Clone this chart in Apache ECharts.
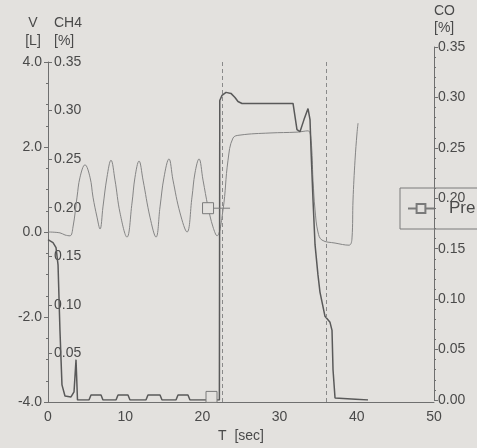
<!DOCTYPE html>
<html>
<head>
<meta charset="utf-8">
<script src="https://cdn.jsdelivr.net/npm/echarts@6/dist/echarts.min.js"></script>
<style>
  html, body { margin: 0; padding: 0; background: #e3e1de; }
  #chart { width: 477px; height: 448px; }
</style>
</head>
<body>
<div id="chart"></div>
<script>
var myChart = echarts.init(document.getElementById('chart'));

// volume trace [L]
var tV = [0, 1.55, 2.2, 2.85, 3.24, 3.76, 4.15, 4.79, 5.44, 5.83, 6.35, 6.74,
    7.12, 7.64, 8.16, 8.68, 9.33, 10.23,
    10.88, 11.27, 11.79, 12.31, 13.21, 13.99,
    14.51, 15.03, 15.67, 16.19, 17.1, 18.01,
    18.65, 19.04, 19.56, 20.08, 20.73, 21.37, 21.89,
    22.67, 23.32, 23.96, 24.87, 28.76, 32.25, 33.68, 34.07, 34.33,
    34.59, 34.97, 35.49, 37.18, 38.99, 39.38, 39.51, 39.77, 40.03, 40.16];
var vol = [0, -0.02, -0.07, -0.09, 0.12, 0.82, 1.29, 1.58, 1.29, 0.82, 0.35, 0.07,
    0.59, 1.29, 1.69, 1.22, 0.45, -0.12,
    0.68, 1.29, 1.67, 1.22, 0.35, -0.12,
    0.59, 1.29, 1.72, 1.22, 0.45, 0,
    0.82, 1.39, 1.72, 1.22, 0.59, 0.12, -0.09,
    0.52, 1.69, 2.21, 2.28, 2.33, 2.35, 2.38, 2.16, 1.22,
    0.52, 0, -0.19, -0.26, -0.31, -0.14, 0.75, 1.69, 2.33, 2.56];

// CO trace [%]
var tCO = [0, 0.65, 1.04, 1.3, 1.55, 1.81, 2.2, 2.98, 3.37, 3.63, 3.82, 4.15, 5.31, 5.57, 6.87,
    7.12, 8.81, 9.07, 10.36, 10.62, 12.69, 12.95, 14.51, 14.77, 16.58, 16.84, 18.13, 18.39,
    22.2, 22.25, 22.54, 23.06, 23.7, 24.22, 24.61, 25.13, 31.74, 32.25, 32.64, 33.16, 33.68,
    33.94, 34.07, 34.33, 34.59, 34.97, 35.23, 35.88, 36.53, 36.79, 36.92, 37.18, 41.45];
var co = [0.159, 0.156, 0.151, 0.134, 0.069, 0.015, 0.004, 0.003, 0.008, 0.04, 0, 0, 0, 0.005, 0.005,
    0, 0, 0.005, 0.005, 0, 0, 0.005, 0.005, 0, 0, 0.005, 0.005, 0,
    0, 0.297, 0.302, 0.305, 0.304, 0.3, 0.296, 0.294, 0.294, 0.268, 0.266, 0.278, 0.289,
    0.278, 0.248, 0.198, 0.154, 0.124, 0.107, 0.083, 0.077, 0.069, 0.03, 0.002, 0];

// "Pre" markers
var tPre = [20.73, 23.58];
var vPre = [0.56, 0.56];
var tPre2 = [21.18];
var vPre2 = [-3.88];

// dashed event lines
var tMarks = [22.6, 36.0];

var bg = '#e3e1de';
var ink = '#4a4a4a';
var axisCol = '#6f6f6f';
var font = 'Liberation Sans, Arial, sans-serif';

function zip(a, b) {
    var out = [];
    for (var i = 0; i < a.length; i++) out.push([a[i], b[i]]);
    return out;
}

var preData = zip(tPre, vPre);
preData[1] = { value: preData[1], symbol: 'none' };

var option = {
    backgroundColor: bg,
    animation: false,
    textStyle: { fontFamily: font, color: ink },
    grid: [
        { left: 48, right: 43, top: 62, bottom: 46 },
        { left: 48, right: 43, top: 47, bottom: 48 }
    ],
    legend: {
        data: ['Pre'],
        left: 400,
        top: 188,
        padding: [12, 60, 12, 7],
        itemWidth: 26,
        itemHeight: 11,
        borderColor: '#7a7a7a',
        borderWidth: 1,
        textStyle: { fontSize: 17, color: ink, padding: [0, 0, 0, 10] }
    },
    xAxis: [
        {
            gridIndex: 0,
            type: 'value',
            min: 0, max: 50, interval: 10,
            name: 'T  [sec]',
            nameLocation: 'middle',
            nameGap: 26,
            nameTextStyle: { fontSize: 14, color: ink },
            axisLine: { onZero: false, lineStyle: { color: axisCol } },
            axisTick: { show: false },
            axisLabel: { fontSize: 14, color: ink, margin: 8 },
            splitLine: { show: false }
        },
        {
            gridIndex: 1,
            type: 'value',
            min: 0, max: 50,
            show: false
        }
    ],
    yAxis: [
        {
            gridIndex: 0,
            type: 'value',
            position: 'left',
            min: -4, max: 4, interval: 2,
            name: 'V\n[L]',
            nameLocation: 'end',
            nameGap: 12,
            nameTextStyle: { fontSize: 14, color: ink, align: 'center', lineHeight: 18, padding: [0, 30, 0, 0] },
            axisLine: { show: true, onZero: false, lineStyle: { color: axisCol } },
            axisTick: { show: true, length: 4, lineStyle: { color: axisCol } },
            minorTick: { show: true, splitNumber: 4, length: 2, lineStyle: { color: axisCol } },
            axisLabel: {
                fontSize: 14, color: ink, margin: 6,
                formatter: function (v) { return v.toFixed(1); }
            },
            splitLine: { show: false }
        },
        {
            gridIndex: 0,
            type: 'value',
            position: 'left',
            min: 0, max: 0.35, interval: 0.05,
            name: 'CH4\n[%]',
            nameLocation: 'end',
            nameGap: 12,
            nameTextStyle: { fontSize: 14, color: ink, align: 'left', lineHeight: 18, padding: [0, 0, 0, 6] },
            axisLine: { show: false, onZero: false },
            axisTick: { show: true, inside: true, length: 4, lineStyle: { color: axisCol } },
            axisLabel: {
                inside: true, fontSize: 14, color: ink, margin: 6,
                formatter: function (v) { return v === 0 ? '' : v.toFixed(2); }
            },
            splitLine: { show: false }
        },
        {
            gridIndex: 1,
            type: 'value',
            position: 'right',
            min: 0, max: 0.35, interval: 0.05,
            name: 'CO\n[%]',
            nameLocation: 'end',
            nameGap: 10,
            nameTextStyle: { fontSize: 14, color: ink, align: 'left', lineHeight: 17, padding: [0, 0, 0, 0] },
            axisLine: { show: true, onZero: false, lineStyle: { color: axisCol } },
            axisTick: { show: true, length: 4, lineStyle: { color: axisCol } },
            minorTick: { show: true, splitNumber: 5, length: 2, lineStyle: { color: axisCol } },
            axisLabel: {
                fontSize: 14, color: ink, margin: 4,
                formatter: function (v) { return v.toFixed(2); }
            },
            splitLine: { show: false }
        }
    ],
    series: [
        {
            name: 'V',
            type: 'line',
            xAxisIndex: 0,
            yAxisIndex: 0,
            data: zip(tV, vol),
            showSymbol: false,
            smooth: 0.4,
            lineStyle: { color: '#858585', width: 1 },
            markLine: {
                silent: true,
                symbol: ['none', 'none'],
                label: { show: false },
                lineStyle: { color: '#8a8a8a', type: [4, 3], width: 1 },
                data: tMarks.map(function (t) { return { xAxis: t }; })
            }
        },
        {
            name: 'CO',
            type: 'line',
            xAxisIndex: 1,
            yAxisIndex: 2,
            data: zip(tCO, co),
            showSymbol: false,
            lineStyle: { color: '#595959', width: 1.5 }
        },
        {
            name: 'Pre',
            type: 'line',
            xAxisIndex: 0,
            yAxisIndex: 0,
            data: preData,
            symbol: 'rect',
            symbolSize: 11,
            showSymbol: true,
            itemStyle: { color: bg, borderColor: '#7a7a7a', borderWidth: 1 },
            lineStyle: { color: '#7a7a7a', width: 1 }
        },
        {
            name: 'Pre',
            type: 'line',
            xAxisIndex: 0,
            yAxisIndex: 0,
            data: zip(tPre2, vPre2),
            symbol: 'rect',
            symbolSize: 11,
            showSymbol: true,
            itemStyle: { color: bg, borderColor: '#7a7a7a', borderWidth: 1 },
            lineStyle: { color: '#7a7a7a', width: 1 }
        }
    ]
};

myChart.setOption(option);
</script>
</body>
</html>
